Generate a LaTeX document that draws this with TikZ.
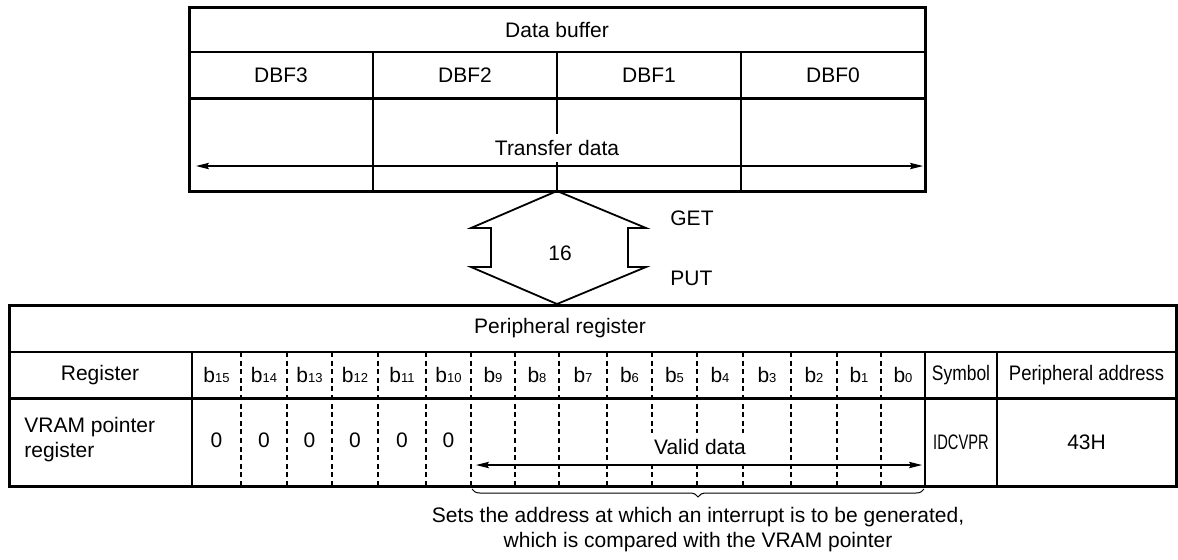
\documentclass[tikz,border=0pt]{standalone}
\usepackage{fontspec}
\setmainfont{Liberation Sans}
\usepackage{graphicx}
\usetikzlibrary{positioning,arrows.meta,decorations.pathreplacing}

\begin{document}
\begin{tikzpicture}[x=0.5pt,y=-0.5pt,
  frame/.style={line width=1.5pt},
  grid/.style={line width=0.6pt},
  bitline/.style={line width=0.6pt,dash pattern=on 2.5pt off 1.8pt},
  txt/.style={font=\fontsize{10.5}{12.5}\selectfont,inner sep=0pt},
  dataarrow/.style={line width=0.6pt,{Stealth[length=6.5pt,width=3.2pt,inset=1pt]}-{Stealth[length=6.5pt,width=3.2pt,inset=1pt]}}]
  \useasboundingbox (0,0) rectangle (1178,559);
  % data buffer box
  \draw[frame] (189,7) rectangle (925,191);
  \draw[grid] (189,52) -- (925,52);
  \draw[frame] (189,98) -- (925,98);
  \foreach \x in {373,557,741} \draw[grid] (\x,52) -- (\x,191);
  \node[txt] (dbuf) at (557,29.5) {Data buffer};
  \foreach \n/\x in {3/281,2/465,1/649,0/833} \node[txt] (dbf\n) at (\x,75) {DBF\n};
  \coordinate (tl) at (196,166);
  \coordinate (tr) at (923,166);
  \draw[dataarrow] (tl) -- (tr);
  \node[txt,fill=white,inner xsep=2pt,inner ysep=3pt] (tdata) at (557,148) {Transfer data};
  % 16-bit bus
  \draw[line width=0.9pt] (557,191) -- (646,228) -- (628,228) -- (628,267) -- (646,267)
    -- (557,304) -- (471,267) -- (491,267) -- (491,228) -- (471,228) -- cycle;
  \node[txt] (width) at (560,253) {16};
  \node[txt,anchor=west] (get) at (670,218) {GET};
  \node[txt,anchor=west] (put) at (670,278) {PUT};
  % peripheral register table
  \draw[frame] (9,305) rectangle (1176,486);
  \draw[grid] (9,352) -- (1176,352);
  \draw[frame] (9,398) -- (1176,398);
  \foreach \x in {192,925,997} \draw[grid] (\x,352) -- (\x,486);
  \foreach \x in {241,287,332,378,426,471,515,559,607,652,697,743,791,837,881}
    \draw[bitline] (\x,352) -- (\x,486);
  \node[txt] (preg) at (560,328) {Peripheral register};
  \node[txt] (reg) at (100,375) {Register};
  \foreach \bit/\x in {15/216.5,14/264,13/309.5,12/355,11/402,10/448.5,9/493,8/537,
                       7/583,6/629.5,5/674.5,4/720,3/767,2/814,1/859,0/903}
    \node[txt] (b\bit) at (\x,375) {b{\fontsize{6.5}{6}\selectfont\bit}};
  \node[txt] (sym) at (961,375) {\scalebox{0.83}[1]{Symbol}};
  \node[txt] (padr) at (1086.5,375) {\scalebox{0.88}[1]{Peripheral address}};
  \node[txt,anchor=west,align=left] (vram) at (24,440) {VRAM pointer\\register};
  \foreach \bit/\x in {15/216.5,14/264,13/309.5,12/355,11/402,10/448.5}
    \node[txt] (z\bit) at (\x,440) {0};
  \coordinate (vl) at (476,465);
  \coordinate (vr) at (922,465);
  \draw[dataarrow] (vl) -- (vr);
  \node[txt,fill=white,inner xsep=2pt,inner ysep=3pt] (vdata) at (700,447) {Valid data};
  \node[txt] (idc) at (961,442) {\scalebox{0.7}[1]{IDCVPR}};
  \node[txt] (addr) at (1086.5,442) {43H};
  % brace and note
  \coordinate (bl) at (472,489);
  \coordinate (br) at (924,489);
  \draw[line width=0.5pt,decorate,decoration={brace,mirror,amplitude=4pt}] (bl) -- (br);
  \node[txt,anchor=north,align=center,font=\fontsize{10.5}{12.5}\selectfont] (note) at (698,507)
    {Sets the address at which an interrupt is to be generated,\\which is compared with the VRAM pointer};
\end{tikzpicture}
\end{document}
